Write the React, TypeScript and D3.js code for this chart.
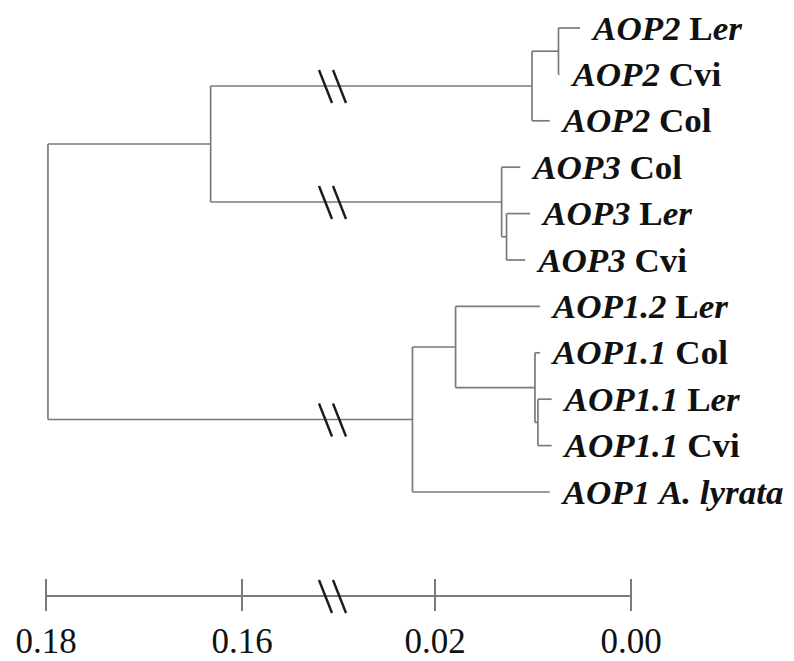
import React from "react";
import * as d3 from "d3";

// ---- data ----
const leafGenes = ["AOP2", "AOP2", "AOP2", "AOP3", "AOP3", "AOP3", "AOP1.2", "AOP1.1", "AOP1.1", "AOP1.1", "AOP1"];
const leafAccessions = ["Ler", "Cvi", "Col", "Col", "Ler", "Cvi", "Ler", "Col", "Ler", "Cvi", "A. lyrata"];
const leafDepths = [0.0052, 0.0073, 0.0083, 0.0113, 0.0103, 0.0108, 0.0093, 0.0093, 0.0081, 0.0081, 0.0083];

const nodeIds = ["n2a", "n2", "n3a", "n3", "n23", "n11a", "n11", "n1a", "n1", "root"];
const nodeChildren = [
  ["L0", "L1"],
  ["n2a", "L2"],
  ["L4", "L5"],
  ["L3", "n3a"],
  ["n2", "n3"],
  ["L8", "L9"],
  ["L7", "n11a"],
  ["L6", "n11"],
  ["n1a", "L10"],
  ["n23", "n1"],
];
const nodeDepths = [0.0074, 0.0101, 0.0127, 0.0132, 0.1632, 0.0095, 0.0098, 0.0179, 0.0223, 0.1798];

const tickValues = [0.18, 0.16, 0.02, 0.0];
const tickLabels = ["0.18", "0.16", "0.02", "0.00"];

// ---- scales ----
const W = 794;
const H = 661;
const xLeft = d3.scaleLinear().domain([0.18, 0.16]).range([46, 242]);
const xRight = d3.scaleLinear().domain([0.02, 0]).range([435, 631]);
const BREAK_SPLIT = 0.09;
const x = (v: number) => (v > BREAK_SPLIT ? xLeft(v) : xRight(v));
const breakX = 333;

const y = d3
  .scalePoint<number>()
  .domain(d3.range(leafGenes.length))
  .range([28, 492]);

type Pos = { x: number; y: number };

function layout() {
  const pos: Record<string, Pos> = {};
  leafGenes.forEach((_, i) => {
    pos["L" + i] = { x: x(leafDepths[i]), y: y(i) as number };
  });
  nodeIds.forEach((id, i) => {
    const ch = nodeChildren[i].map((c) => pos[c]);
    pos[id] = { x: x(nodeDepths[i]), y: d3.mean(ch, (c) => c.y) as number };
  });
  return pos;
}

const depthOf = (id: string) =>
  id.startsWith("L") ? leafDepths[+id.slice(1)] : nodeDepths[nodeIds.indexOf(id)];

const LINE = "#7a7a7a";
const FONT = "'Liberation Serif', 'Times New Roman', serif";

function BreakMark({ cx, cy }: { cx: number; cy: number }) {
  return (
    <g stroke="#1a1a1a" strokeWidth={2.4}>
      <line x1={cx - 14} y1={cy - 16} x2={cx - 1} y2={cy + 17} />
      <line x1={cx} y1={cy - 16} x2={cx + 13} y2={cy + 17} />
    </g>
  );
}

function Label({ i, px, py }: { i: number; px: number; py: number }) {
  const gene = leafGenes[i];
  const acc = leafAccessions[i];
  let accParts: React.ReactNode;
  if (acc === "Ler") {
    accParts = (
      <>
        <tspan fontStyle="normal">L</tspan>
        <tspan fontStyle="italic">er</tspan>
      </>
    );
  } else if (acc === "A. lyrata") {
    accParts = <tspan fontStyle="italic">{acc}</tspan>;
  } else {
    accParts = <tspan fontStyle="normal">{acc}</tspan>;
  }
  return (
    <text
      x={px}
      y={py}
      dy="0.34em"
      fontFamily={FONT}
      fontWeight="bold"
      fontSize={34}
      fill="#111"
      transform={`translate(${px},0) scale(1.03,1) translate(${-px},0)`}
    >
      <tspan fontStyle="italic">{gene}</tspan>
      <tspan> </tspan>
      {accParts}
    </text>
  );
}

export default function App() {
  const pos = layout();
  const segs: React.ReactNode[] = [];
  const breaks: React.ReactNode[] = [];
  nodeIds.forEach((id, i) => {
    const p = pos[id];
    const ch = nodeChildren[i].map((c) => pos[c]);
    const ys = ch.map((c) => c.y);
    segs.push(
      <line key={id + "v"} x1={p.x} x2={p.x} y1={d3.min(ys)} y2={d3.max(ys)} />
    );
    nodeChildren[i].forEach((c) => {
      const cp = pos[c];
      segs.push(<line key={id + c} x1={p.x} x2={cp.x} y1={cp.y} y2={cp.y} />);
      if (depthOf(id) > BREAK_SPLIT && depthOf(c) < BREAK_SPLIT) {
        breaks.push(<BreakMark key={"b" + c} cx={breakX} cy={cp.y} />);
      }
    });
  });

  const axisY = 596;
  const tickXs = tickValues.map((v) => x(v));

  return (
    <svg
      width={W}
      height={H}
      style={{ position: "absolute", left: 0, top: 0, background: "#fff" }}
    >
      <g stroke={LINE} strokeWidth={1.7} fill="none">
        {segs}
      </g>
      {breaks}
      {leafGenes.map((_, i) => (
        <Label key={i} i={i} px={pos["L" + i].x + 13} py={pos["L" + i].y} />
      ))}
      {/* scale axis */}
      <g stroke={LINE} strokeWidth={2}>
        <line x1={d3.min(tickXs)} x2={d3.max(tickXs)} y1={axisY} y2={axisY} />
        {tickXs.map((tx, i) => (
          <line key={i} x1={tx} x2={tx} y1={axisY - 17} y2={axisY + 15} />
        ))}
      </g>
      <BreakMark cx={breakX} cy={axisY} />
      {tickLabels.map((t, i) => (
        <text
          key={t}
          x={tickXs[i]}
          y={653}
          textAnchor="middle"
          fontFamily={FONT}
          fontSize={35}
          fill="#111"
        >
          {t}
        </text>
      ))}
    </svg>
  );
}
